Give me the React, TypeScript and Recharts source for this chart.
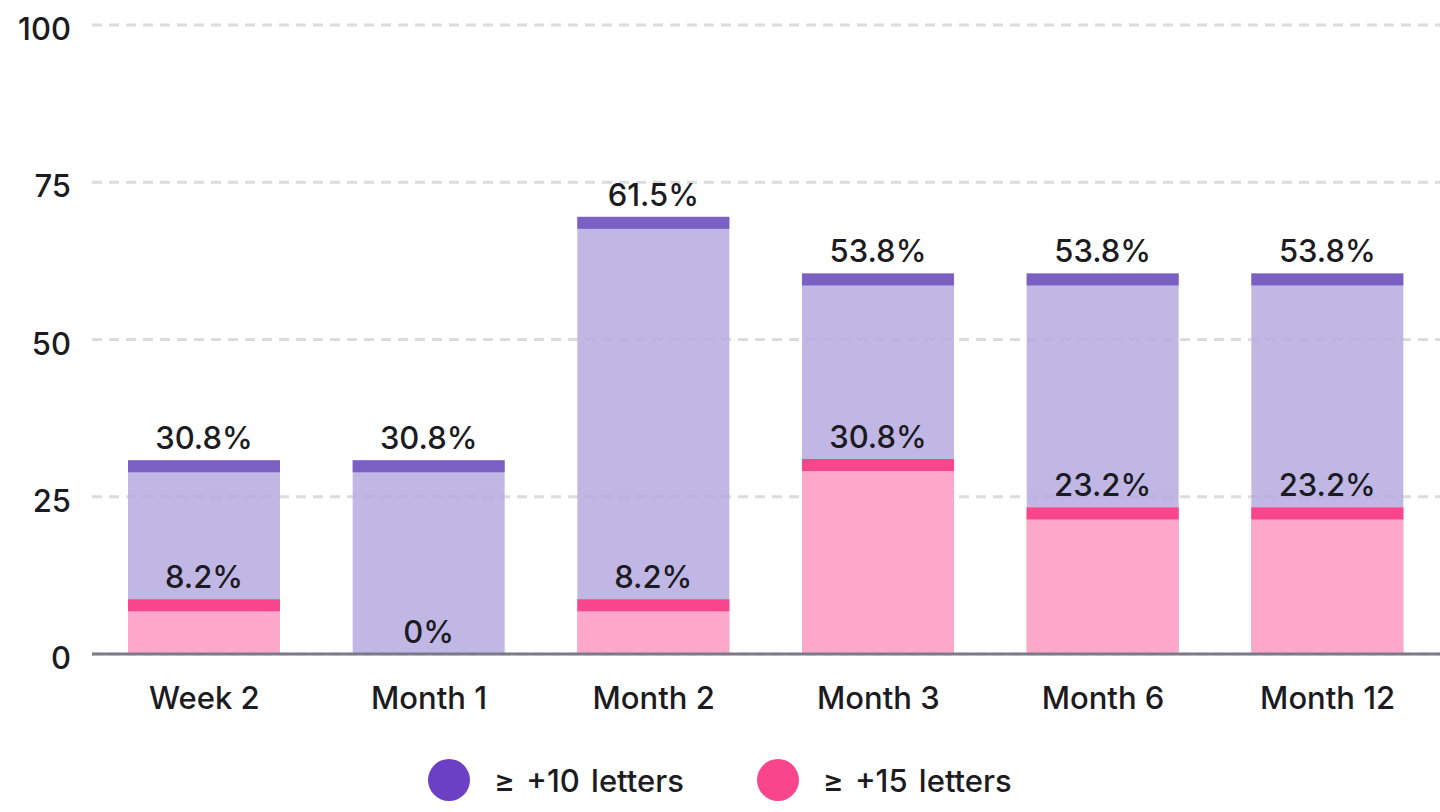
import { Bar, BarChart, CartesianGrid, LabelList, Legend, XAxis, YAxis } from "recharts";

const categories = ["Week 2", "Month 1", "Month 2", "Month 3", "Month 6", "Month 12"];
const tenLetters = [30.8, 30.8, 69.5, 60.5, 60.5, 60.5];
const fifteenLetters = [8.7, 0, 8.7, 31, 23.3, 23.3];
const tenLabels = ["30.8%", "30.8%", "61.5%", "53.8%", "53.8%", "53.8%"];
const fifteenLabels = ["8.2%", "0%", "8.2%", "30.8%", "23.2%", "23.2%"];
const yTicks = [0, 25, 50, 75, 100];

const FONT = "Inter, 'Noto Sans', sans-serif";
const TEXT = "#1c1b22";
const SIZE = 31;

const data = categories.map((name, i) => ({
  name,
  ten: tenLetters[i],
  fifteen: fifteenLetters[i],
}));

const makeShape = (light: string, dark: string) => (props: any) => {
  const { x, y, width, height } = props;
  if (!height || height <= 0) return <g />;
  const band = Math.min(12, height);
  return (
    <g>
      <rect x={x} y={y} width={width} height={height} fill={light} />
      <rect x={x} y={y} width={width} height={band} fill={dark} />
    </g>
  );
};

const makeLabel = (texts: string[]) => (props: any) => {
  const { x, y, width, index } = props;
  return (
    <text
      x={x + width / 2}
      y={y - 11}
      textAnchor="middle"
      fontFamily={FONT}
      fontSize={SIZE}
      fontWeight={500}
      fill={TEXT}
    >
      {texts[index]}
    </text>
  );
};

const legendItems = [
  { label: "≥ +10 letters", color: "#6b40c4" },
  { label: "≥ +15 letters", color: "#f9458c" },
];

const renderLegend = () => (
  <div
    style={{
      height: 56,
      display: "flex",
      justifyContent: "center",
      alignItems: "center",
      gap: 73,
      fontFamily: FONT,
      fontSize: SIZE,
      fontWeight: 500,
      color: TEXT,
    }}
  >
    {legendItems.map((item) => (
      <div key={item.label} style={{ display: "flex", alignItems: "center" }}>
        <span
          style={{
            width: 42,
            height: 42,
            borderRadius: "50%",
            background: item.color,
            marginRight: 24,
          }}
        />
        <span style={{ wordSpacing: 3 }}>{item.label}</span>
      </div>
    ))}
  </div>
);

export default function App() {
  return (
    <div style={{ position: "absolute", left: 0, top: 0, width: 1440, height: 812, background: "#fff" }}>
      <BarChart
        width={1440}
        height={812}
        data={data}
        margin={{ top: 25, right: 0, bottom: 4, left: 0 }}
        barSize={152}
        barGap={-152}
      >
        <CartesianGrid
          vertical={false}
          stroke="#dcdbe0"
          strokeWidth={3}
          strokeDasharray="10 7"
        />
        <XAxis
          dataKey="name"
          height={98}
          tickLine={false}
          tickSize={0}
          tickMargin={33}
          axisLine={{ stroke: "#7c7a89", strokeWidth: 3 }}
          tick={{ fill: TEXT, fontSize: SIZE, fontFamily: FONT, fontWeight: 500 }}
        />
        <YAxis
          domain={[0, 100]}
          ticks={yTicks}
          width={92}
          axisLine={false}
          tickLine={false}
          tickSize={0}
          tickMargin={21}
          tick={{ fill: TEXT, fontSize: SIZE, fontFamily: FONT, fontWeight: 500, dy: 4 }}
        />
        <Legend verticalAlign="bottom" content={renderLegend} />
        <Bar
          dataKey="ten"
          isAnimationActive={false}
          shape={makeShape("rgba(182, 170, 225, 0.85)", "#7a60c3")}
        >
          <LabelList dataKey="ten" content={makeLabel(tenLabels)} />
        </Bar>
        <Bar
          dataKey="fifteen"
          isAnimationActive={false}
          shape={makeShape("#fda8ca", "#f8458b")}
        >
          <LabelList dataKey="fifteen" content={makeLabel(fifteenLabels)} />
        </Bar>
      </BarChart>
    </div>
  );
}
